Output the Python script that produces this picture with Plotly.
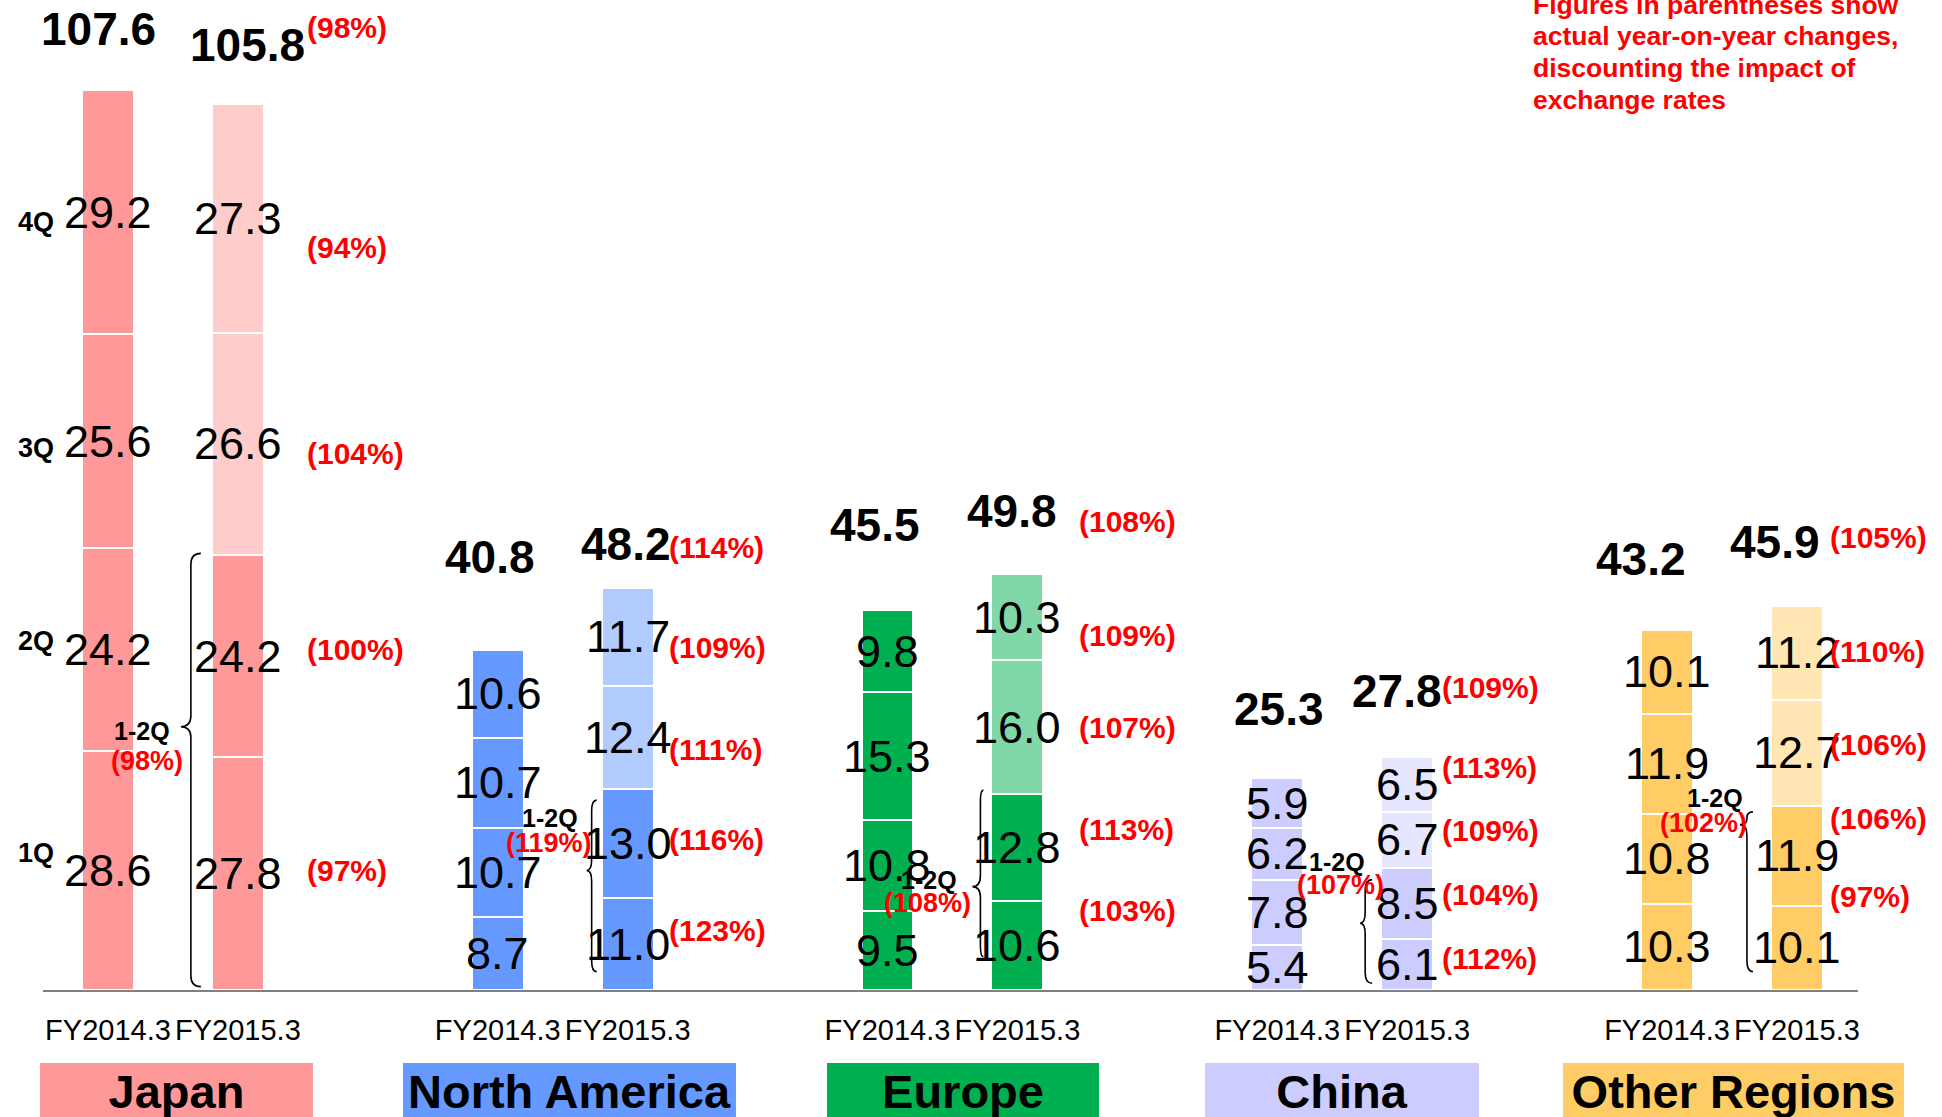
import plotly.graph_objects as go

# ---------------------------------------------------------------- data
regions = ["Japan", "North America", "Europe", "China", "Other Regions"]
fiscal_years = ["FY2014.3", "FY2015.3"]
quarters = ["1Q", "2Q", "3Q", "4Q"]

# quarterly sales (1Q..4Q) per region
q_fy2014 = [
    [28.6, 24.2, 25.6, 29.2],
    [8.7, 10.7, 10.7, 10.6],
    [9.5, 10.8, 15.3, 9.8],
    [5.4, 7.8, 6.2, 5.9],
    [10.3, 10.8, 11.9, 10.1],
]
q_fy2015 = [
    [27.8, 24.2, 26.6, 27.3],
    [11.0, 13.0, 12.4, 11.7],
    [10.6, 12.8, 16.0, 10.3],
    [6.1, 8.5, 6.7, 6.5],
    [10.1, 11.9, 12.7, 11.2],
]
total_fy2014 = [107.6, 40.8, 45.5, 25.3, 43.2]
total_fy2015 = [105.8, 48.2, 49.8, 27.8, 45.9]

# year-on-year changes excluding exchange-rate effects (%)
yoy_total = [98, 114, 108, 109, 105]
yoy_quarter = [
    [97, 100, 104, 94],
    [123, 116, 111, 109],
    [103, 113, 107, 109],
    [112, 104, 109, 113],
    [97, 106, 106, 110],
]
yoy_first_half = [98, 119, 108, 107, 102]

note_lines = [
    "Figures in parentheses show",
    "actual year-on-year changes,",
    "discounting the impact of",
    "exchange rates",
]

# ---------------------------------------------------------------- styles
FONT = "Liberation Sans, Arial, sans-serif"
RED = "#FF0000"
base_colors = ["#FF9999", "#6699FF", "#00B050", "#CCCCFF", "#FFCC66"]
light_colors = ["#FFCCCC", "#B3CCFF", "#80D8A8", "#E6E6FF", "#FFE6B3"]

W, H = 1942, 1117
M_L, M_R, M_T, M_B = 43, 84, 0, 127
X_RANGE = [-0.5, 13.47]
Y_RANGE = [0, 118.36]
PLOT_H = H - M_T - M_B

# label placement tweaks (pixels)
total_shift14 = [61, 92, 84, 69, 70]
total_shift15 = [60, 43, 62, 66, 64]
total_dx14 = [-9, -8, -12, 2, -26]
total_dx15 = [10, -2, -5, -10, -22]
pct_left = [67, 39, 60, 33, 31]
pct_total_dy = [18, -4, -10, 4, 5]
pct_seg_dy = [
    [3, 7, -10, -29],
    [14, 4, -12, -11],
    [35, 18, 0, -18],
    [6, 9, 9, 17],
    [51, 37, 8, 1],
]
quarter_dy = [17, 9, -7, -10]

# brace geometry (x in pixels from the FY2015 bar, y in data units)
brace_line = [-47, -36, -37, -42, -50]
brace_tip = [-57, -41, -45, -47, -57]
brace_end = [-37, -31, -34, -35, -44]
brace_bottom = [0.4, 2.2, 4.0, 0.8, 2.2]
brace_top_adj = [0.2, -1.3, 0.5, -1.4, -0.7]
brace_tip_frac = [0.6, 0.59, 0.42, 0.58, 0.92]
h1_label = [(-39, 4), (-37, -52), (-43, -7), (-23, -61), (-25, -27)]
h1_pct = [(-34, 34), (-38, -27), (-45, 16), (-20, -38), (-36, -2)]

box_dx = [4, 7, 11, 0, 2]
box_w = [273, 333, 272, 274, 341]


def paper_y(py):
    return (H - M_B - py) / PLOT_H


def data_x(px):
    return X_RANGE[0] + (px - M_L) / (W - M_L - M_R) * (X_RANGE[1] - X_RANGE[0])


pos14 = [3 * i for i in range(len(regions))]
pos15 = [3 * i + 1 for i in range(len(regions))]

# ---------------------------------------------------------------- bars
fig = go.Figure()
bar_x, tick_text = [], []
for i in range(len(regions)):
    bar_x += [pos14[i], pos15[i]]
    tick_text += fiscal_years

for q in range(4):
    ys, cols = [], []
    for i in range(len(regions)):
        ys += [q_fy2014[i][q], q_fy2015[i][q]]
        cols += [base_colors[i], base_colors[i] if q < 2 else light_colors[i]]
    fig.add_trace(go.Bar(
        x=bar_x, y=ys, width=0.4, name=quarters[q],
        marker=dict(color=cols, line=dict(color="white", width=2)),
        hoverinfo="skip",
    ))

ann = []
shapes = []


def text(x, y, s, size, color="black", bold=False, **kw):
    d = dict(x=x, y=y, xref=kw.pop("xref", "x"), yref=kw.pop("yref", "y"),
             text=f"<b>{s}</b>" if bold else s, showarrow=False,
             xanchor=kw.pop("xanchor", "center"),
             yanchor=kw.pop("yanchor", "middle"),
             font=dict(family=FONT, size=size, color=color))
    d.update(kw)
    ann.append(d)


for i in range(len(regions)):
    # segment values
    for vals, xp in ((q_fy2014[i], pos14[i]), (q_fy2015[i], pos15[i])):
        cum = 0
        for q, v in enumerate(vals):
            text(xp, cum + v / 2, f"{v:.1f}", 45)
            cum += v
    # totals
    text(pos14[i], total_fy2014[i], f"{total_fy2014[i]:.1f}", 46, bold=True,
         yshift=total_shift14[i], xshift=total_dx14[i])
    text(pos15[i], total_fy2015[i], f"{total_fy2015[i]:.1f}", 46, bold=True,
         yshift=total_shift15[i], xshift=total_dx15[i])
    # year-on-year for the total
    text(pos15[i], total_fy2015[i], f"({yoy_total[i]}%)", 30, RED, True,
         xanchor="left", xshift=pct_left[i],
         yshift=total_shift15[i] + pct_total_dy[i])
    # year-on-year per quarter
    cum = 0
    for q, v in enumerate(q_fy2015[i]):
        text(pos15[i], cum + v / 2, f"({yoy_quarter[i][q]}%)", 30, RED, True,
             xanchor="left", xshift=pct_left[i], yshift=pct_seg_dy[i][q])
        cum += v

    # first-half brace
    yb = brace_bottom[i]
    yt = q_fy2015[i][0] + q_fy2015[i][1] + brace_top_adj[i]
    ytip = yb + (yt - yb) * brace_tip_frac[i]
    r_lo = min(1.3, (ytip - yb) / 2.2)
    r_hi = min(1.3, (yt - ytip) / 2.2)
    xl, xt, xe = brace_line[i], brace_tip[i], brace_end[i]
    path = (f"M {xe},{yb} Q {xl},{yb} {xl},{yb + r_lo} "
            f"L {xl},{ytip - r_lo} Q {xl},{ytip} {xt},{ytip} "
            f"Q {xl},{ytip} {xl},{ytip + r_hi} "
            f"L {xl},{yt - r_hi} Q {xl},{yt} {xe},{yt}")
    shapes.append(dict(type="path", path=path, xref="x", yref="y",
                       xsizemode="pixel", xanchor=pos15[i],
                       line=dict(color="black", width=1.6)))
    text(pos15[i], ytip, "1-2Q", 25, bold=True,
         xshift=xt + h1_label[i][0], yshift=-h1_label[i][1])
    text(pos15[i], ytip, f"({yoy_first_half[i]}%)", 27, RED, True,
         xshift=xt + h1_pct[i][0], yshift=-h1_pct[i][1])

    # region name box
    text((pos14[i] + pos15[i]) / 2, paper_y(1091), regions[i], 47, bold=True,
         yref="paper", xshift=box_dx[i], width=box_w[i], height=56,
         bgcolor=base_colors[i], borderpad=0, borderwidth=0, align="center",
         valign="middle")

# quarter names beside the first bar
cum = 0
for q, v in enumerate(q_fy2014[0]):
    text(pos14[0], cum + v / 2, quarters[q], 27, bold=True, xanchor="right",
         xshift=-52, yshift=quarter_dy[q])
    cum += v

# note in the top-right corner
for k, line in enumerate(note_lines):
    text(data_x(1531), paper_y(5 + 31.5 * k), line, 26.5, RED, True,
         yref="paper", xanchor="left")

fig.update_layout(
    width=W, height=H,
    margin=dict(l=M_L, r=M_R, t=M_T, b=M_B),
    barmode="stack", showlegend=False,
    plot_bgcolor="white", paper_bgcolor="white",
    annotations=ann, shapes=shapes,
    xaxis=dict(range=X_RANGE, tickvals=bar_x, ticktext=tick_text,
               tickfont=dict(family=FONT, size=29, color="black"),
               tickangle=0,
               showline=True, linecolor="#808080", linewidth=2,
               showgrid=False, zeroline=False, ticks="outside",
               ticklen=13, tickcolor="rgba(0,0,0,0)", fixedrange=True),
    yaxis=dict(range=Y_RANGE, visible=False, fixedrange=True),
)

fig.write_html("out.html")
